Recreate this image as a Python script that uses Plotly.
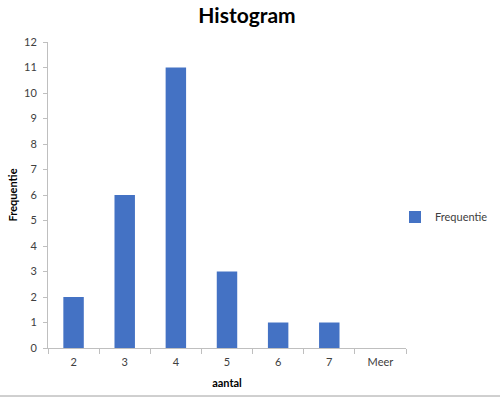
import plotly.graph_objects as go

categories = ["2", "3", "4", "5", "6", "7", "Meer"]
frequencies = [2, 6, 11, 3, 1, 1, 0]
y_ticks = list(range(0, 13))

W, H = 500, 399
L, R, T, B = 48, 94, 42, 51
plot_w = W - L - R
plot_h = H - T - B

fig = go.Figure()
fig.add_trace(go.Bar(
    x=categories, y=frequencies, name="Frequentie",
    marker=dict(color="#4472C4", line=dict(width=0)),
    showlegend=True,
))

font_family = "Lato, Open Sans, Liberation Sans, sans-serif"
fig.update_layout(
    width=W, height=H,
    margin=dict(l=L, r=R, t=T, b=B, autoexpand=False),
    paper_bgcolor="white", plot_bgcolor="white",
    bargap=0.6,
    font=dict(family=font_family, size=11, color="#404040"),
    title=dict(text="<b>Histogram</b>", x=247 / W, xanchor="center",
               y=1 - 16 / H, yanchor="middle",
               font=dict(size=21, color="#000000", family=font_family)),
    showlegend=True,
    legend=dict(x=(395 - L) / plot_w, y=(348 - 217) / plot_h, xanchor="left", yanchor="middle",
                font=dict(size=11, color="#404040"), itemwidth=30,
                bgcolor="rgba(0,0,0,0)"),
    xaxis=dict(
        type="category", showline=True, linecolor="#BFBFBF", linewidth=1,
        ticks="outside", tickson="boundaries", ticklen=5, tickcolor="#BFBFBF",
        showgrid=False, tickfont=dict(size=11, color="#404040"), ticklabelstandoff=4,
        title=dict(text="<b>aantal</b>", font=dict(size=11, color="#000000"), standoff=12),
    ),
    yaxis=dict(
        range=[0, 12], tickvals=y_ticks, showline=True, linecolor="#BFBFBF", linewidth=1,
        ticks="outside", ticklen=4, tickcolor="#BFBFBF", showgrid=False, zeroline=False,
        tickfont=dict(size=11, color="#404040"), ticklabelstandoff=4,
        title=dict(text="<b>Frequentie</b>", font=dict(size=11, color="#000000"), standoff=4),
    ),
    shapes=[dict(type="line", xref="paper", yref="paper", x0=-L / plot_w, x1=(W - L) / plot_w,
                 y0=-48 / plot_h, y1=-48 / plot_h, line=dict(color="#A0A0A0", width=1))],
)

fig.write_html("out.html", config={"displayModeBar": False},
               post_script="document.body.style.margin='0';document.body.style.overflow='hidden';")
